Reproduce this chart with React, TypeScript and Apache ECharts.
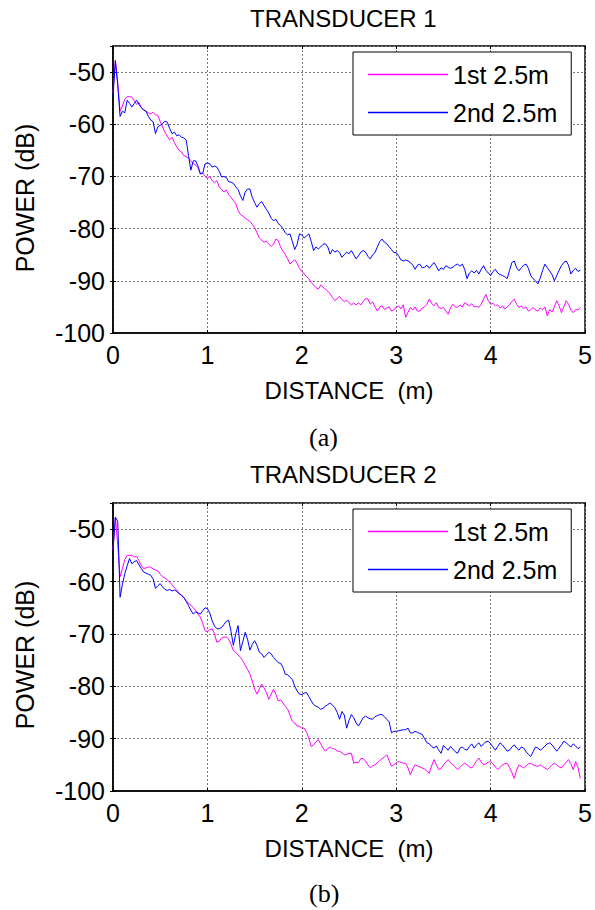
import React, { useEffect, useRef } from "react";
import * as echarts from "echarts";

// sampling step along the distance axis (m)
const STEP = 0.025;

const X_TICKS = [0, 1, 2, 3, 4, 5];
const Y_TICKS = [-100, -90, -80, -70, -60, -50];

const SERIES_NAMES = ["1st 2.5m", "2nd 2.5m"];
const TITLES = ["TRANSDUCER 1", "TRANSDUCER 2"];
const CAPTIONS = ["(a)", "(b)"];
const X_NAME = "DISTANCE  (m)";
const Y_NAME = "POWER (dB)";

// TRANSDUCER 1, first 2.5 m (dB)
const T1_FIRST = [
  -54, -47.8, -52, -57.5, -56.5, -55.2, -54.7, -54.7, -54.8, -55.5, -56.2, -55.8, -56.8, -57.2, -57.5, -57.8, -58, -57.7, -58.2, -58.3,
  -59.5, -60.5, -61.5, -62.3, -63.0, -62.5, -63.5, -64.3, -65.0, -65.3, -66.0, -66.2, -66.5, -67.0, -67.5, -67.8, -68.3, -69.5, -69.3, -70.0,
  -70.3, -70.0, -70.8, -71.2, -70.8, -72.0, -72.5, -73.0, -72.6, -73.5, -74.0, -74.6, -75.2, -76.5, -77.3, -77.6, -78.0, -78.3, -78.6, -79.2,
  -79.8, -80.8, -81.8, -82.2, -82.6, -82.4, -83.0, -83.4, -83.0, -82.0, -82.3, -83.5, -84.3, -85.0, -85.8, -86.8, -86.3, -86.0, -86.6, -87.6,
  -88.2, -88.7, -89.2, -89.6, -90.3, -90.8, -91.3, -91.6, -90.8, -91.2, -91.6, -92.0, -92.5, -93.2, -93.8, -93.4, -93.0, -93.6, -94.0, -93.7,
  -94.2, -94.6, -94.3, -94.6, -94.2, -94.6, -94.0, -93.4, -93.5, -94.5, -94.0, -95.0, -95.8, -95.0, -94.8, -95.5, -95.2, -95.0, -95.8, -95.6,
  -95.0, -94.8, -95.4, -94.6, -97.0, -96.0, -95.1, -95.6, -95.0, -95.8, -95.8, -95.2, -95.0, -94.5, -93.5, -94.3, -94.8, -94.2, -95.1, -95.3,
  -95.1, -95.8, -96.4, -95.2, -94.5, -95.0, -95.1, -94.6, -95.0, -94.2, -94.5, -94.8, -94.4, -95.0, -94.9, -95.1, -94.5, -93.5, -92.6, -93.8,
  -94.5, -94.3, -94.8, -94.6, -95.2, -94.8, -95.4, -95.0, -94.6, -94.0, -93.5, -94.5, -95.1, -94.8, -95.3, -95.0, -95.8, -95.5, -95.1, -95.6,
  -95.8, -95.2, -95.6, -95.0, -96.7, -95.5, -96.0, -95.0, -93.8, -94.8, -96.1, -95.0, -93.8, -94.5, -95.6, -96.1, -95.5, -95.6, -95.1,
];

// TRANSDUCER 1, second 2.5 m (dB)
const T1_SECOND = [
  -54.7, -47.8, -52.5, -58.5, -57.5, -57.8, -55.4, -56.0, -56.7, -56.0, -55.4, -56.2, -56.8, -57.3, -57.5, -58.5, -59.2, -59.5, -61.8, -60.5,
  -60.2, -59.9, -59.4, -59.6, -60.8, -61.8, -61.5, -62.2, -62.0, -62.5, -62.6, -63.0, -66.0, -68.8, -67.0, -67.0, -68.0, -69.5, -69.4, -67.6,
  -67.4, -67.6, -68.2, -68.0, -68.2, -69.0, -70.1, -70.0, -70.2, -71.0, -71.1, -71.3, -72.0, -72.5, -73.7, -74.6, -73.0, -72.4, -72.4, -74.0,
  -75.0, -75.9, -75.2, -74.8, -75.6, -76.3, -77.0, -78.0, -78.5, -78.2, -79.0, -79.4, -80.0, -80.8, -81.2, -81.0, -82.5, -84.0, -83.0, -81.0,
  -81.2, -81.8, -81.4, -81.0, -82.5, -84.2, -83.5, -83.9, -83.5, -83.0, -82.9, -83.5, -84.9, -84.0, -84.5, -84.2, -84.6, -85.5, -85.0, -84.5,
  -84.8, -84.2, -85.0, -85.8, -85.2, -84.5, -84.2, -84.5, -85.3, -85.8, -85.0, -84.6, -83.5, -82.5, -82.0, -82.6, -82.9, -83.5, -84.0, -84.6,
  -84.6, -85.2, -86.0, -86.2, -86.0, -86.2, -86.5, -87.0, -87.8, -87.0, -86.8, -87.5, -87.4, -87.0, -87.6, -87.0, -86.5, -87.2, -88.1, -87.5,
  -87.8, -87.1, -87.4, -87.6, -87.4, -87.0, -86.8, -87.2, -86.8, -87.8, -89.6, -88.5, -88.1, -88.5, -88.0, -88.7, -87.8, -87.1, -88.0, -88.5,
  -89.0, -88.2, -87.8, -88.5, -88.8, -89.0, -89.2, -89.6, -88.0, -86.5, -86.2, -87.5, -88.1, -87.5, -87.0, -86.8, -87.6, -89.0, -89.6, -90.0,
  -90.6, -89.5, -88.0, -86.8, -87.5, -88.1, -88.8, -90.0, -89.0, -88.0, -87.1, -86.5, -86.2, -87.0, -88.7, -88.0, -87.6, -88.2, -88.0,
];

// TRANSDUCER 2, first 2.5 m (dB)
const T2_FIRST = [
  -54, -47.7, -53, -59.1, -57.5, -55.8, -55.0, -55.0, -55.0, -55.3, -55.2, -56.0, -57.0, -57.5, -57.4, -57.2, -57.3, -57.6, -57.8, -58.0,
  -58.6, -59.1, -59.3, -59.7, -60.1, -60.6, -61.2, -61.6, -62.3, -62.6, -63.2, -63.6, -64.2, -64.5, -65.0, -65.5, -66.2, -66.8, -68.0, -69.4,
  -69.6, -69.2, -69.0, -70.0, -71.6, -71.4, -70.8, -70.6, -70.6, -71.0, -72.0, -73.2, -73.6, -74.0, -74.5, -75.1, -76.0, -76.8, -77.7, -79.0,
  -80.5, -81.5, -80.5, -79.6, -80.3, -81.2, -82.5, -81.5, -80.6, -81.5, -82.8, -82.6, -83.2, -83.8, -84.4, -85.5, -86.7, -87.0, -87.6, -87.6,
  -88.0, -88.0, -88.8, -90.0, -91.5, -91.2, -90.6, -90.2, -91.0, -91.8, -92.4, -91.9, -91.6, -91.9, -92.0, -92.4, -92.4, -92.7, -93.1, -93.0,
  -92.8, -92.8, -94.7, -94.5, -94.6, -93.8, -93.8, -94.3, -95.0, -95.6, -95.2, -95.0, -94.6, -94.2, -93.8, -93.5, -93.1, -94.2, -95.3, -95.0,
  -94.6, -94.4, -94.5, -94.7, -94.7, -95.6, -96.9, -95.8, -95.0, -95.2, -95.4, -95.6, -95.8, -96.2, -96.6, -95.2, -94.0, -95.0, -95.9, -95.7,
  -95.0, -94.5, -94.0, -94.6, -95.0, -95.4, -95.9, -95.5, -95.0, -94.7, -95.0, -95.4, -95.6, -95.0, -94.3, -93.7, -94.5, -95.0, -94.8, -94.5,
  -94.4, -94.8, -95.4, -95.9, -95.5, -95.0, -94.8, -94.7, -95.5, -96.5, -97.6, -96.0, -95.0, -95.3, -95.6, -95.2, -94.8, -94.7, -95.0, -95.2,
  -95.3, -95.0, -95.3, -95.6, -95.9, -95.5, -95.0, -94.7, -95.0, -95.4, -95.6, -95.0, -94.5, -94.0, -94.8, -95.9, -94.4, -95.5, -97.6,
];

// TRANSDUCER 2, second 2.5 m (dB)
const T2_SECOND = [
  -54, -47.7, -48.5, -63.0, -60.5, -58.5, -57.0, -55.6, -56.6, -56.2, -56.0, -56.8, -57.5, -58.2, -58.4, -58.6, -58.8, -59.5, -61.3, -60.8,
  -60.4, -61.0, -61.5, -61.7, -61.5, -61.8, -61.6, -61.9, -62.3, -62.6, -63.0, -63.8, -64.6, -65.5, -66.2, -65.8, -66.0, -66.2, -65.6, -65.0,
  -65.2, -66.0, -67.5, -68.5, -69.0, -69.0, -68.8, -68.2, -67.6, -67.4, -69.5, -72.2, -70.0, -68.4, -73.2, -71.5, -69.7, -71.0, -73.1, -72.0,
  -71.3, -72.2, -73.5, -73.8, -74.5, -74.0, -73.5, -73.8, -74.5, -75.0, -75.5, -75.6, -76.4, -77.7, -77.8, -78.3, -78.7, -80.0, -80.9, -81.5,
  -81.6, -81.3, -81.2, -82.0, -82.8, -83.5, -83.8, -84.0, -84.4, -84.2, -83.8, -83.5, -83.2, -83.6, -84.1, -85.0, -86.3, -84.8, -85.5, -88.0,
  -86.5, -85.4, -86.0, -87.0, -87.6, -86.8, -86.0, -85.7, -86.0, -86.2, -86.3, -85.8, -85.6, -85.4, -85.4, -85.8, -86.3, -86.8, -88.9, -88.6,
  -88.6, -88.5, -88.4, -88.3, -88.3, -88.0, -88.9, -88.9, -88.6, -88.8, -89.0, -89.2, -90.0, -90.8, -91.0, -91.5, -91.8, -91.4, -92.2, -92.8,
  -91.3, -91.8, -92.2, -91.5, -92.0, -92.5, -92.8, -91.8, -91.6, -92.0, -92.2, -91.5, -91.0, -91.8, -91.2, -90.8, -91.5, -91.0, -90.6, -90.5,
  -91.0, -91.6, -92.2, -91.5, -90.8, -91.2, -91.8, -92.4, -92.2, -91.6, -91.2, -91.8, -92.2, -91.6, -91.8, -92.5, -93.0, -93.4, -92.5, -91.6,
  -91.8, -92.2, -91.9, -91.4, -91.0, -90.8, -91.2, -91.8, -92.4, -91.8, -91.2, -90.5, -90.8, -91.2, -91.6, -91.0, -91.4, -91.9, -91.6,
];

const FONT = "'Liberation Sans', Arial, sans-serif";
const PINK = "#ff00ff";
const BLUE = "#0000ff";
const COLORS = [PINK, BLUE];

const toPairs = (arr: number[]) => arr.map((v, i) => [+(i * STEP).toFixed(3), v]);

export default function App() {
  const ref = useRef<HTMLDivElement>(null);

  useEffect(() => {
    if (!ref.current) return;
    const chart = echarts.init(ref.current, undefined, { renderer: "svg" });

    const grids = [
      { left: 113, top: 46, width: 473, height: 287 },
      { left: 113, top: 503, width: 473, height: 288 },
    ];
    const yNameCenters = [198, 655];

    const xAxes: any[] = [];
    const yAxes: any[] = [];
    grids.forEach((_, gi) => {
      xAxes.push({
        type: "value",
        gridIndex: gi,
        min: X_TICKS[0],
        max: X_TICKS[X_TICKS.length - 1],
        interval: 1,
        name: X_NAME,
        nameLocation: "middle",
        nameGap: 45,
        nameTextStyle: { fontFamily: FONT, fontSize: 24, color: "#000" },
        axisLine: { show: true, onZero: false, lineStyle: { color: "#000", width: 1.5 } },
        axisTick: { show: true, inside: true, length: 3, lineStyle: { color: "#000" } },
        axisLabel: { fontFamily: FONT, fontSize: 25, color: "#000", margin: 9 },
        splitLine: { show: true, lineStyle: { color: "#777", type: [2, 2], width: 1 } },
      });
      xAxes.push({
        type: "value",
        gridIndex: gi,
        position: "top",
        min: X_TICKS[0],
        max: X_TICKS[X_TICKS.length - 1],
        interval: 1,
        axisLine: { show: false },
        axisTick: { show: true, inside: true, length: 3, lineStyle: { color: "#000" } },
        axisLabel: { show: false },
        splitLine: { show: false },
      });
      yAxes.push({
        type: "value",
        gridIndex: gi,
        min: Y_TICKS[0],
        max: -45,
        interval: 10,
        axisLine: { show: true, onZero: false, lineStyle: { color: "#000", width: 1.5 } },
        axisTick: { show: true, inside: true, length: 3, lineStyle: { color: "#000" } },
        axisLabel: { fontFamily: FONT, fontSize: 25, color: "#000", margin: 8, showMaxLabel: false },
        splitLine: { show: true, lineStyle: { color: "#777", type: [2, 2], width: 1 } },
      });
      yAxes.push({
        type: "value",
        gridIndex: gi,
        position: "right",
        min: Y_TICKS[0],
        max: -45,
        interval: 10,
        axisLine: { show: false },
        axisTick: { show: true, inside: true, length: 3, lineStyle: { color: "#000" } },
        axisLabel: { show: false },
        splitLine: { show: false },
      });
    });

    const mkSeries = (name: string, data: number[], color: string, gi: number) => ({
      type: "line",
      name,
      xAxisIndex: gi * 2,
      yAxisIndex: gi * 2,
      data: toPairs(data),
      symbol: "none",
      showSymbol: false,
      lineStyle: { color, width: 1 },
      itemStyle: { color },
      z: 2,
    });

    const legendBase = {
      orient: "vertical",
      left: 353,
      padding: [10, 14, 10, 15],
      icon: "rect",
      itemWidth: 80,
      itemHeight: 1.5,
      itemGap: 13,
      itemTextGap: 10,
      selectedMode: false,
      borderColor: "#000",
      borderWidth: 1,
      backgroundColor: "#fff",
      textStyle: { fontFamily: FONT, fontSize: 25, color: "#000", lineHeight: 25 },
      data: SERIES_NAMES.map((n, i) => ({ name: n, itemStyle: { color: COLORS[i] } })),
      z: 10,
    };

    chart.setOption({
      animation: false,
      backgroundColor: "#fff",
      title: [
        {
          text: TITLES[0],
          left: 250,
          top: 6,
          padding: 0,
          textStyle: { fontFamily: FONT, fontSize: 24, fontWeight: "normal", color: "#000" },
        },
        {
          text: TITLES[1],
          left: 250,
          top: 462,
          padding: 0,
          textStyle: { fontFamily: FONT, fontSize: 24, fontWeight: "normal", color: "#000" },
        },
      ],
      legend: [
        { ...legendBase, top: 52 },
        { ...legendBase, top: 509 },
      ],
      grid: grids.map((g) => ({
        ...g,
        show: true,
        borderColor: "#000",
        borderWidth: 1.5,
        backgroundColor: "transparent",
        containLabel: false,
      })),
      xAxis: xAxes,
      yAxis: yAxes,
      series: [
        mkSeries(SERIES_NAMES[0], T1_FIRST, PINK, 0),
        mkSeries(SERIES_NAMES[1], T1_SECOND, BLUE, 0),
        mkSeries(SERIES_NAMES[0], T2_FIRST, PINK, 1),
        mkSeries(SERIES_NAMES[1], T2_SECOND, BLUE, 1),
      ],
      graphic: [
        ...yNameCenters.map((cy) => ({
          type: "text",
          x: 25,
          y: cy,
          rotation: Math.PI / 2,
          style: {
            text: Y_NAME,
            font: `25px ${FONT}`,
            fill: "#000",
            align: "center",
            verticalAlign: "middle",
          },
        })),
        {
          type: "text",
          left: 309,
          top: 424,
          style: { text: CAPTIONS[0], font: "26px 'Liberation Serif', 'Times New Roman', serif", fill: "#000" },
        },
        {
          type: "text",
          left: 309,
          top: 880,
          style: { text: CAPTIONS[1], font: "26px 'Liberation Serif', 'Times New Roman', serif", fill: "#000" },
        },
      ],
    });

    return () => chart.dispose();
  }, []);

  return (
    <div
      ref={ref}
      style={{ position: "absolute", left: 0, top: 0, width: 595, height: 910, background: "#fff" }}
    />
  );
}
